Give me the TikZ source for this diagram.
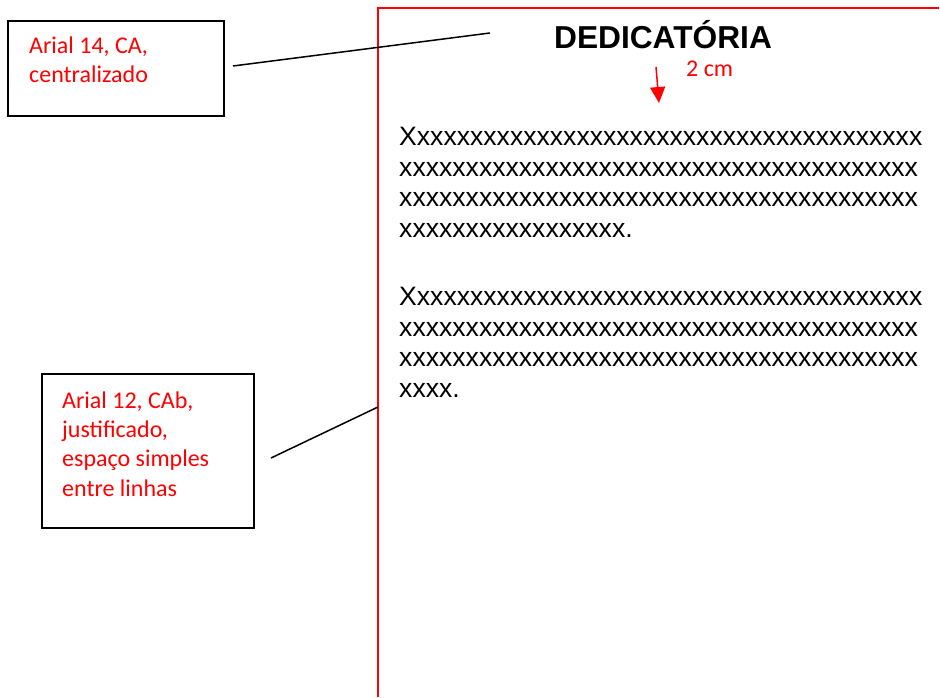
\documentclass[tikz,border=0pt]{standalone}
\usepackage{fontspec}
\setmainfont{Liberation Sans}
\newfontfamily\annotfont{Carlito}
\usetikzlibrary{arrows.meta}
\def\xten{xxxxxxxxxx}
\begin{document}
\begin{tikzpicture}[x=1pt,y=-1pt,
  annot/.style={font=\annotfont\fontsize{24}{29.3}\selectfont, text=red, align=left, inner sep=0pt, anchor=base west},
  frame/.style={draw=black, line width=1.8pt, inner sep=0pt},
  leader/.style={draw=black, line width=1.5pt},
  body/.style={font=\fontsize{26.6}{30.5}\selectfont, align=left, inner sep=0pt, anchor=base west},
]
\fill[white] (0,0) rectangle (940,698);
\useasboundingbox (0,0) rectangle (940,698);
% page edge
\coordinate (pbl) at (378,697);
\coordinate (ptl) at (378,8);
\coordinate (ptr) at (939,8);
\draw[red, line width=1.5pt] (pbl) -- (ptl) -- (ptr);
% boxes
\node[frame, minimum width=216pt, minimum height=95pt] (bx1) at (116,68.5) {};
\node[annot] (t1) at (29,82.5) {Arial 14, CA,\\centralizado};
\node[frame, minimum width=212pt, minimum height=154pt] (bx2) at (148,451) {};
\node[annot] (t2) at (62,496) {Arial 12, CAb,\\justificado,\\espaço simples\\entre linhas};
% leaders
\coordinate (c1a) at (233,66);
\coordinate (c1b) at (490,33);
\draw[leader] (c1a) -- (c1b);
\coordinate (c2a) at (271,458);
\coordinate (c2b) at (378,407);
\draw[leader] (c2a) -- (c2b);
% title
\node[font=\bfseries\fontsize{31.7}{36}\selectfont, anchor=base, inner sep=0pt] (title) at (663,49) {DEDICATÓRIA};
% arrow
\coordinate (a1) at (656,67);
\coordinate (a2) at (659,103);
\draw[red, line width=1.5pt, -{Triangle[length=16pt,width=15pt]}] (a1) -- (a2);
\node[annot] (cm) at (686,77) {2 cm};
% paragraphs
\node[body] (p1) at (399,237) {X\xten\xten\xten xxxxxxxx\\\xten\xten\xten xxxxxxxxx\\\xten\xten\xten xxxxxxxxx\\\xten xxxxxxx.};
\node[body] (p2) at (399,397) {X\xten\xten\xten xxxxxxxx\\\xten\xten\xten xxxxxxxxx\\\xten\xten\xten xxxxxxxxx\\xxxx.};
\end{tikzpicture}
\end{document}
